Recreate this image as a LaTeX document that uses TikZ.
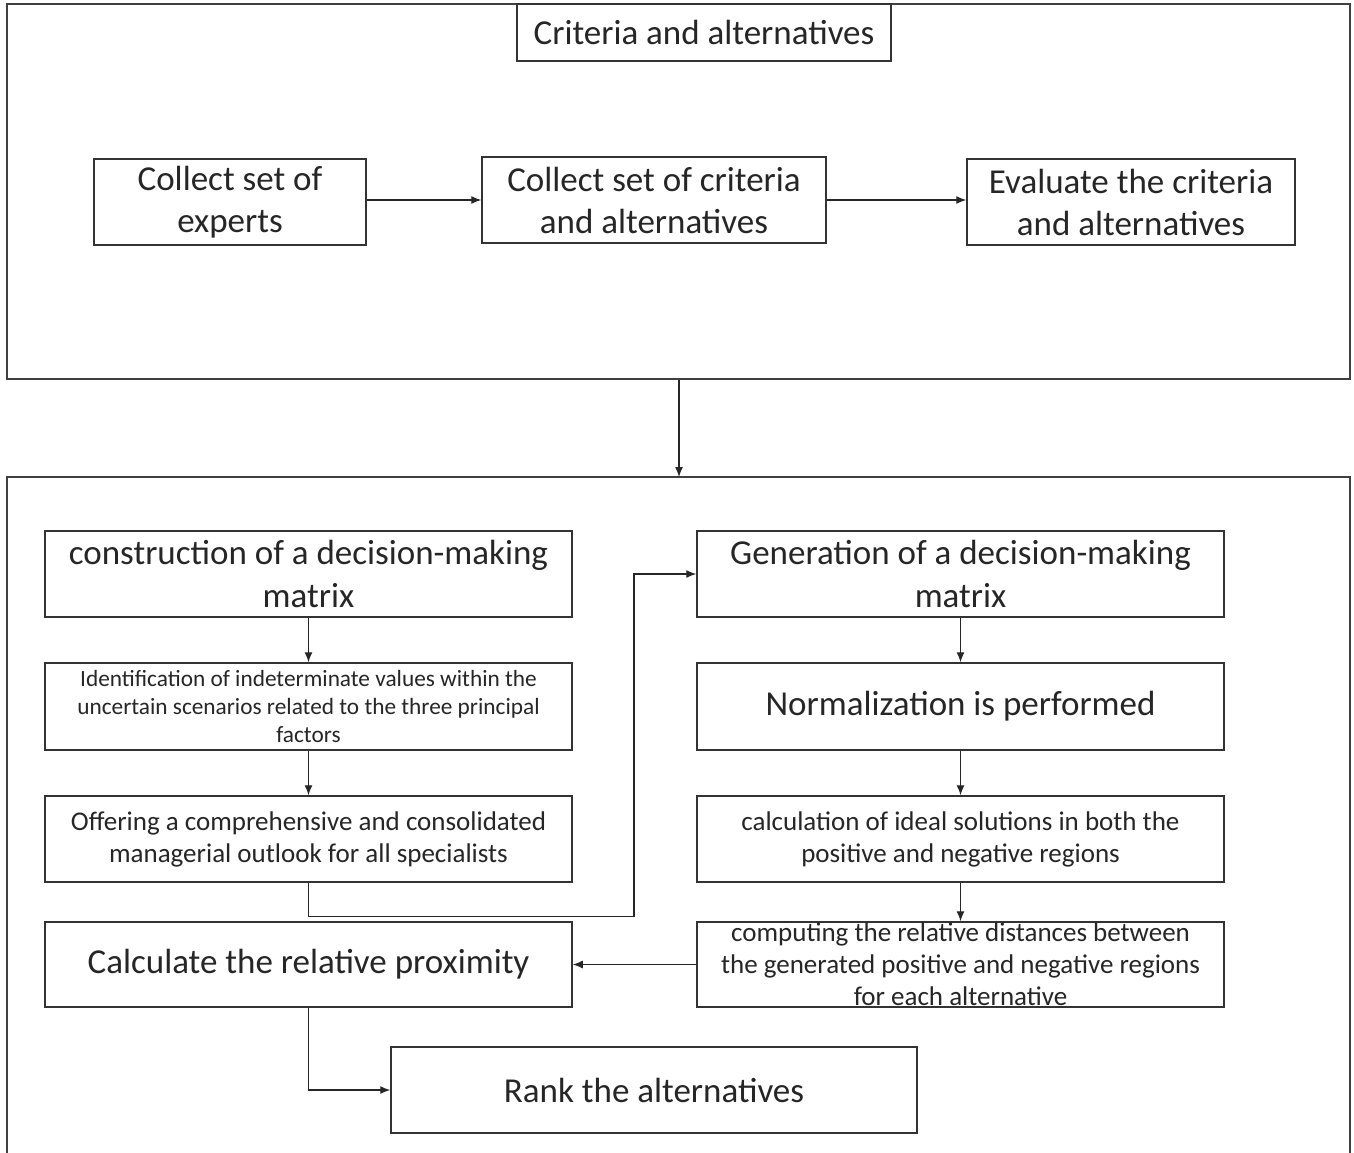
\documentclass[tikz,border=0pt]{standalone}
\usepackage{fontspec}
\setmainfont{Carlito}
\usetikzlibrary{arrows.meta}
\tikzset{
  frame/.style={draw=black!75, line width=1.5pt},
  box/.style={draw=black!80, line width=1.5pt, rectangle, inner sep=0pt, align=center, text=black!85},
  bigtxt/.style={font=\fontsize{35}{42}\selectfont},
  hugetxt/.style={font=\fontsize{35}{43}\selectfont},
  midtxt/.style={font=\fontsize{27}{32}\selectfont},
  smalltxt/.style={font=\fontsize{23.3}{28}\selectfont},
  link/.style={draw=black!85, line width=1.3pt},
  flow/.style={link, -{Latex[length=10pt,width=8pt]}}
}
\begin{document}
\begin{tikzpicture}[x=1pt,y=-1pt]
\useasboundingbox (0,0) rectangle (1354,1153);
\fill[white] (0,0) rectangle (1354,1153);

% upper stage: gathering experts, criteria and alternatives
\node[frame, rectangle, minimum width=1343pt, minimum height=375pt, inner sep=0pt] (upper) at (678.5,191.5) {};
\node[box, bigtxt, minimum width=374pt, minimum height=57pt] (title) at (704,32.5) {Criteria and alternatives};
\node[box, bigtxt, minimum width=272pt, minimum height=86pt] (experts) at (230,202) {Collect set of\\experts};
\node[box, bigtxt, minimum width=344pt, minimum height=86pt] (criteria) at (654,200) {Collect set of criteria\\and alternatives};
\node[box, bigtxt, minimum width=328pt, minimum height=86pt] (evaluate) at (1131,202) {Evaluate the criteria\\and alternatives};

\draw[flow] (experts.east |- 0,200) -- (criteria.west |- 0,200);
\draw[flow] (criteria.east |- 0,200) -- (evaluate.west |- 0,200);

% lower stage: the ranking procedure (frame runs past the bottom edge)
\coordinate (lowtop) at (679,477);
\draw[frame] (7,1153) -- (7,477) -- (1350,477) -- (1350,1153);
\draw[flow] (upper.south -| lowtop) -- (lowtop);

% left column
\node[box, hugetxt, minimum width=527pt, minimum height=86pt] (construct) at (308.5,574) {construction of a decision-making\\matrix};
\node[box, smalltxt, minimum width=527pt, minimum height=87pt] (identify) at (308.5,706.5) {Identification of indeterminate values within the\\uncertain scenarios related to the three principal\\factors};
\node[box, midtxt, minimum width=527pt, minimum height=86pt] (offer) at (308.5,839) {Offering a comprehensive and consolidated\\managerial outlook for all specialists};
\node[box, hugetxt, minimum width=527pt, minimum height=85pt] (proximity) at (308.5,964.5) {Calculate the relative proximity};

% right column
\node[box, hugetxt, minimum width=527pt, minimum height=86pt] (generate) at (960.5,574) {Generation of a decision-making\\matrix};
\node[box, hugetxt, minimum width=527pt, minimum height=87pt] (normal) at (960.5,706.5) {Normalization is performed};
\node[box, midtxt, minimum width=527pt, minimum height=86pt] (ideal) at (960.5,839) {calculation of ideal solutions in both the\\positive and negative regions};
\node[box, minimum width=527pt, minimum height=85pt] (distance) at (960.5,964.5) {};
\node[midtxt, align=center, text=black!85, inner sep=0pt] (distancetext) at (distance.center) {computing the relative distances between\\the generated positive and negative regions\\for each alternative};

% final ranking
\node[box, hugetxt, minimum width=526pt, minimum height=86pt] (rank) at (654,1090) {Rank the alternatives};

% connectors
\draw[flow] (construct.south) -- (identify.north);
\draw[flow] (identify.south) -- (offer.north);
\draw[flow] (offer.south) -- ++(0,34) -| (634,574) -- (generate.west);
\draw[flow] (generate.south) -- (normal.north);
\draw[flow] (normal.south) -- (ideal.north);
\draw[flow] (ideal.south) -- (distance.north);
\draw[flow] (distance.west) -- (proximity.east);
\draw[flow] (proximity.south) |- (rank.west);
\end{tikzpicture}
\end{document}
